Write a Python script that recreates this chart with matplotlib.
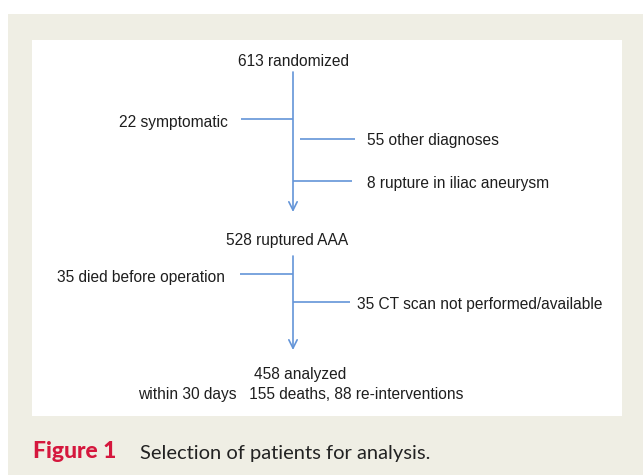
import matplotlib
matplotlib.use("Agg")
import matplotlib.pyplot as plt
from matplotlib.patches import Rectangle

# ---- data ----
start_n = 613
start_label = "randomized"
excl1 = [(22, "symptomatic"), (55, "other diagnoses"), (8, "rupture in iliac aneurysm")]
mid_n = 528
mid_label = "ruptured AAA"
excl2 = [(35, "died before operation"), (35, "CT scan not performed/available")]
end_n = 458
end_label = "analyzed"
outcome_text = "within 30 days   155 deaths, 88 re-interventions"
caption_bold = "Figure 1"
caption_text = "Selection of patients for analysis."

BLUE = "#6495d8"
TXT = "#1e1e1e"
BEIGE = "#efeee4"
FONT = "Liberation Sans"

fig = plt.figure(figsize=(6.43, 4.75), dpi=100)
ax = fig.add_axes([0, 0, 1, 1])
ax.set_xlim(0, 643)
ax.set_ylim(475, 0)
ax.axis("off")

ax.add_patch(Rectangle((8, 14), 640, 470, facecolor=BEIGE, edgecolor="none"))
ax.add_patch(Rectangle((32, 40), 590, 376, facecolor="white", edgecolor="none"))

fs = 11.2
def t(x, y, s, ha="left"):
    ax.text(x, y + 1.5, s, ha=ha, va="center", fontsize=fs, color=TXT, family=FONT)

def hline(x0, x1, y):
    ax.plot([x0, x1], [y, y], color=BLUE, lw=1.2, solid_capstyle="butt")

def arrow(x, y0, y1):
    ax.annotate("", xy=(x, y1), xytext=(x, y0),
                arrowprops=dict(arrowstyle="->,head_length=0.6,head_width=0.3",
                                color=BLUE, lw=1.2, shrinkA=0, shrinkB=0))

vx = 293
t(vx, 60, f"{start_n} {start_label}", ha="center")
arrow(vx, 72, 212)
hline(241, vx, 119)
t(228, 121, f"{excl1[0][0]} {excl1[0][1]}", ha="right")
hline(300, 355, 139)
t(367, 139, f"{excl1[1][0]} {excl1[1][1]}")
hline(vx, 352, 181)
t(367, 182, f"{excl1[2][0]} {excl1[2][1]}")

t(287, 239, f"{mid_n} {mid_label}", ha="center")
arrow(vx, 256, 350)
hline(240, vx, 274)
t(225, 276, f"{excl2[0][0]} {excl2[0][1]}", ha="right")
hline(vx, 350, 302)
t(357, 303, f"{excl2[1][0]} {excl2[1][1]}")

t(300, 373, f"{end_n} {end_label}", ha="center")
t(301, 393, outcome_text, ha="center")

ax.text(33, 452, caption_bold, ha="left", va="center", fontsize=16.5, color="#d5173d",
        family="Lato", fontweight="black")
ax.text(140, 453, caption_text, ha="left", va="center", fontsize=14.5, color="#222222",
        family="Lato")

fig.savefig("out.png", dpi=100)
